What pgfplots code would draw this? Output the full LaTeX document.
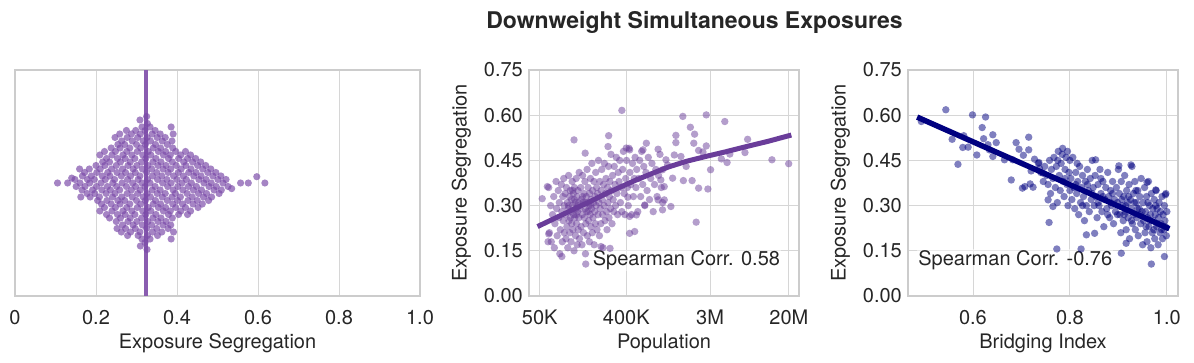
\documentclass[border=0pt]{standalone}
\usepackage{pgfplots}
\pgfplotsset{compat=1.18}
\usepackage{fontspec}
\setmainfont{TeX Gyre Heros}
\definecolor{txt}{HTML}{262626}
\definecolor{gridc}{HTML}{D6D6D6}
\definecolor{framec}{HTML}{CCCCCC}
\definecolor{pA}{HTML}{7A4AA8}
\definecolor{pAline}{HTML}{8A5DB0}
\definecolor{pB}{HTML}{6A3D9A}
\definecolor{nv}{HTML}{000080}
\pgfplotsset{
  myax/.style={
    scale only axis, anchor=south west, height=226pt,
    axis line style={draw=framec, line width=1.3pt},
    grid=major, major grid style={draw=gridc, line width=0.9pt},
    major tick length=0pt, tick style={draw=none},
    xminorticks=false, yminorticks=false,
    tick label style={font=\fontsize{20}{24}\selectfont, text=txt, inner sep=0pt},
    label style={font=\fontsize{20}{24}\selectfont, text=txt, inner sep=0pt},
    xticklabel style={anchor=base, yshift=-29pt},
    yticklabel style={anchor=base east, xshift=-6pt, yshift=-7pt},
    xlabel style={at={(axis description cs:0.5,-0.2345)}, anchor=base},
    ylabel style={at={(axis description cs:-0.2307,0.5)}, anchor=base},
  },
}
\tikzset{annot/.style={anchor=base west, fill=white, fill opacity=0.5, text opacity=1, inner sep=1pt, font=\fontsize{20}{24}\selectfont, text=txt}}
\begin{document}
\begin{tikzpicture}
\useasboundingbox (0,0) rectangle (1194pt,363pt);
\node[anchor=base, font=\bfseries\fontsize{23}{28}\selectfont, text=txt] at (694.5pt,334pt) {Downweight Simultaneous Exposures};

% ---------------- Panel 1: swarm ----------------
\begin{axis}[myax, at={(15pt,67pt)}, width=405pt,
  xmin=0, xmax=1, ymin=-16.14, ymax=16.14,
  xtick={0,0.2,0.4,0.6,0.8,1}, xticklabels={0,0.2,0.4,0.6,0.8,1.0},
  ytick=\empty, xlabel={Exposure Segregation}]
\addplot[only marks, mark=*, mark size=3.6pt, mark options={draw=pA, draw opacity=0, fill=pA, fill opacity=0.68}] coordinates {
(0.105,0) (0.13,0) (0.14,0.7)
(0.151,-0.5) (0.148,0.5)
(0.1625,-2) (0.1655,-1) (0.1605,0) (0.1665,1) (0.1595,2)
(0.178,-1.5) (0.173,-0.5) (0.179,0.5) (0.172,1.5)
(0.1855,-2) (0.1915,-1) (0.1845,0) (0.1885,1) (0.1835,2)
(0.204,-2.5) (0.197,-1.5) (0.201,-0.5) (0.196,0.5) (0.202,1.5) (0.2,2.5)
(0.2095,-4) (0.2135,-3) (0.2085,-2) (0.2145,-1) (0.2125,0) (0.2155,1) (0.2105,2) (0.2165,3) (0.2095,4)
(0.226,-4.5) (0.221,-3.5) (0.227,-2.5) (0.225,-1.5) (0.228,-0.5) (0.223,0.5) (0.229,1.5) (0.222,2.5) (0.226,3.5) (0.221,4.5)
(0.2335,-5) (0.2395,-4) (0.2375,-3) (0.2405,-2) (0.2355,-1) (0.2415,0) (0.2345,1) (0.2385,2) (0.2335,3) (0.2395,4) (0.2375,5)
(0.252,-6.5) (0.25,-5.5) (0.253,-4.5) (0.248,-3.5) (0.254,-2.5) (0.247,-1.5) (0.251,-0.5) (0.246,0.5) (0.252,1.5) (0.25,2.5) (0.253,3.5) (0.248,4.5) (0.254,5.5) (0.247,6.5)
(0.2625,-7) (0.2655,-6) (0.2605,-5) (0.2665,-4) (0.2595,-3) (0.2635,-2) (0.2585,-1) (0.2645,0) (0.2625,1) (0.2655,2) (0.2605,3) (0.2665,4) (0.2595,5) (0.2635,6) (0.2585,7)
(0.278,-7.5) (0.273,-6.5) (0.279,-5.5) (0.272,-4.5) (0.276,-3.5) (0.271,-2.5) (0.277,-1.5) (0.275,-0.5) (0.278,0.5) (0.273,1.5) (0.279,2.5) (0.272,3.5) (0.276,4.5) (0.271,5.5) (0.277,6.5) (0.275,7.5)
(0.2855,-7) (0.2915,-6) (0.2845,-5) (0.2885,-4) (0.2835,-3) (0.2895,-2) (0.2875,-1) (0.2905,0) (0.2855,1) (0.2915,2) (0.2845,3) (0.2885,4) (0.2835,5) (0.2895,6) (0.2875,7)
(0.304,-7.5) (0.297,-6.5) (0.301,-5.5) (0.296,-4.5) (0.302,-3.5) (0.3,-2.5) (0.303,-1.5) (0.298,-0.5) (0.304,0.5) (0.297,1.5) (0.301,2.5) (0.296,3.5) (0.302,4.5) (0.3,5.5) (0.303,6.5) (0.298,7.5)
(0.3095,-9) (0.3135,-8) (0.3085,-7) (0.3145,-6) (0.3125,-5) (0.3155,-4) (0.3105,-3) (0.3165,-2) (0.3095,-1) (0.3135,0) (0.3085,1) (0.3145,2) (0.3125,3) (0.3155,4) (0.3105,5) (0.3165,6) (0.3095,7) (0.3135,8) (0.3085,9)
(0.326,-9.5) (0.321,-8.5) (0.327,-7.5) (0.325,-6.5) (0.328,-5.5) (0.323,-4.5) (0.329,-3.5) (0.322,-2.5) (0.326,-1.5) (0.321,-0.5) (0.327,0.5) (0.325,1.5) (0.328,2.5) (0.323,3.5) (0.329,4.5) (0.322,5.5) (0.326,6.5) (0.321,7.5) (0.327,8.5) (0.325,9.5)
(0.3335,-8) (0.3395,-7) (0.3375,-6) (0.3405,-5) (0.3355,-4) (0.3415,-3) (0.3345,-2) (0.3385,-1) (0.3335,0) (0.3395,1) (0.3375,2) (0.3405,3) (0.3355,4) (0.3415,5) (0.3345,6) (0.3385,7) (0.3335,8)
(0.352,-7.5) (0.35,-6.5) (0.353,-5.5) (0.348,-4.5) (0.354,-3.5) (0.347,-2.5) (0.351,-1.5) (0.346,-0.5) (0.352,0.5) (0.35,1.5) (0.353,2.5) (0.348,3.5) (0.354,4.5) (0.347,5.5) (0.351,6.5) (0.346,7.5)
(0.3625,-7) (0.3655,-6) (0.3605,-5) (0.3665,-4) (0.3595,-3) (0.3635,-2) (0.3585,-1) (0.3645,0) (0.3625,1) (0.3655,2) (0.3605,3) (0.3665,4) (0.3595,5) (0.3635,6) (0.3585,7)
(0.378,-6.5) (0.373,-5.5) (0.379,-4.5) (0.372,-3.5) (0.376,-2.5) (0.371,-1.5) (0.377,-0.5) (0.375,0.5) (0.378,1.5) (0.373,2.5) (0.379,3.5) (0.372,4.5) (0.376,5.5) (0.371,6.5)
(0.3855,-8) (0.3915,-7) (0.3845,-6) (0.3885,-5) (0.3835,-4) (0.3895,-3) (0.3875,-2) (0.3905,-1) (0.3855,0) (0.3915,1) (0.3845,2) (0.3885,3) (0.3835,4) (0.3895,5) (0.3875,6) (0.3905,7) (0.3855,8)
(0.404,-4.5) (0.397,-3.5) (0.401,-2.5) (0.396,-1.5) (0.402,-0.5) (0.4,0.5) (0.403,1.5) (0.398,2.5) (0.404,3.5) (0.397,4.5)
(0.4095,-4) (0.4135,-3) (0.4085,-2) (0.4145,-1) (0.4125,0) (0.4155,1) (0.4105,2) (0.4165,3) (0.4095,4)
(0.426,-4.5) (0.421,-3.5) (0.427,-2.5) (0.425,-1.5) (0.428,-0.5) (0.423,0.5) (0.429,1.5) (0.422,2.5) (0.426,3.5) (0.421,4.5)
(0.4335,-4) (0.4395,-3) (0.4375,-2) (0.4405,-1) (0.4355,0) (0.4415,1) (0.4345,2) (0.4385,3) (0.4335,4)
(0.452,-3.5) (0.45,-2.5) (0.453,-1.5) (0.448,-0.5) (0.454,0.5) (0.447,1.5) (0.451,2.5) (0.446,3.5)
(0.4625,-3) (0.4655,-2) (0.4605,-1) (0.4665,0) (0.4595,1) (0.4635,2) (0.4585,3)
(0.478,-2.5) (0.473,-1.5) (0.479,-0.5) (0.472,0.5) (0.476,1.5) (0.471,2.5)
(0.4855,-2) (0.4915,-1) (0.4845,0) (0.4885,1) (0.4835,2)
(0.504,-1.5) (0.497,-0.5) (0.501,0.5) (0.496,1.5)
(0.5095,-1) (0.5135,0) (0.5085,1)
(0.526,-0.5) (0.521,0.5)
(0.535,-0.8) (0.557,0) (0.576,0) (0.597,0.9) (0.617,0)
};
\addplot[pAline, line width=4.5pt] coordinates {(0.323,-16.14) (0.323,16.14)};
\end{axis}

% ---------------- Panel 2: population ----------------
\begin{axis}[myax, at={(529pt,67pt)}, width=270pt,
  xmode=log, xmin=38.6, xmax=25500, ymin=0, ymax=0.75,
  xtick={50,400,3000,20000}, xticklabels={50K,400K,3M,20M},
  ytick={0,0.15,0.3,0.45,0.6,0.75}, yticklabels={0.00,0.15,0.30,0.45,0.60,0.75},
  xlabel={Population}, ylabel={Exposure Segregation}]
\addplot[only marks, mark=*, mark size=3.7pt, mark options={draw=pB, draw opacity=0, fill=pB, fill opacity=0.5}] coordinates {
(1560,0.596) (2740,0.601) (4280,0.579) (1870,0.560) (2070,0.537) (1320,0.533) (2030,0.507) (2740,0.498) (2280,0.483) (2530,0.478)
(1270,0.468) (1490,0.463) (7410,0.520) (6950,0.476) (4830,0.471) (3940,0.455) (4520,0.443) (3040,0.419) (13300,0.452) (19900,0.439)
(1040,0.452) (957,0.419) (919,0.385) (1220,0.391) (1580,0.383) (1950,0.383) (2280,0.358) (2850,0.355) (998,0.363) (998,0.319)
(1170,0.297) (957,0.286) (2150,0.245) (1690,0.430) (1080,0.435) (1320,0.509)
(114,0.518) (262,0.532) (258,0.496) (149,0.474) (53,0.323) (60,0.363) (62,0.206) (61,0.180) (85,0.131) (151,0.106)
(271,0.158) (218,0.164) (434,0.208) (490,0.214) (416,0.328) (649,0.507) (861,0.487) (598,0.485) (400,0.491) (434,0.485)
(861,0.319) (624,0.302) (510,0.269) (434,0.264) (360,0.616)
(62,0.36) (65,0.30) (63,0.21) (66,0.18) (68,0.27) (70,0.33) (72,0.24) (71,0.16) (74,0.38) (75,0.29) (76,0.20) (78,0.35)
(79,0.26) (80,0.31) (81,0.14) (82,0.22) (84,0.37) (85,0.28) (86,0.18) (87,0.33) (88,0.25) (89,0.39) (90,0.21) (90,0.30)
(92,0.34) (93,0.27) (94,0.19) (95,0.36) (96,0.23) (97,0.31) (98,0.16) (99,0.29) (100,0.40) (101,0.25) (102,0.33) (103,0.21)
(104,0.35) (105,0.28) (106,0.18) (107,0.32) (108,0.24) (109,0.38) (110,0.30) (111,0.22) (112,0.34) (113,0.27) (114,0.15) (115,0.36)
(116,0.26) (117,0.31) (118,0.20) (119,0.29) (120,0.39) (121,0.24) (122,0.33) (123,0.17) (124,0.28) (125,0.35) (126,0.22) (127,0.31)
(128,0.26) (129,0.41) (130,0.19) (100,0.30) (104,0.26) (110,0.35) (115,0.32) (120,0.27) (125,0.30)
(132,0.29) (134,0.36) (135,0.23) (136,0.32) (138,0.17) (139,0.27) (140,0.40) (142,0.31) (143,0.21) (145,0.34) (146,0.26) (148,0.38)
(149,0.29) (150,0.14) (151,0.24) (153,0.33) (154,0.28) (156,0.42) (157,0.20) (159,0.31) (160,0.36) (162,0.25) (163,0.30) (165,0.18)
(166,0.34) (168,0.27) (169,0.39) (171,0.23) (172,0.32) (174,0.29) (175,0.44) (177,0.21) (178,0.35) (180,0.26) (182,0.31) (184,0.38)
(185,0.17) (187,0.28) (189,0.33) (190,0.24) (192,0.41) (194,0.30) (196,0.36) (198,0.22) (140,0.33) (150,0.31) (160,0.28) (170,0.30)
(201,0.34) (203,0.27) (205,0.45) (207,0.31) (210,0.20) (212,0.38) (214,0.29) (217,0.24) (219,0.35) (222,0.42) (224,0.32) (227,0.27)
(229,0.16) (232,0.37) (235,0.30) (237,0.44) (240,0.25) (243,0.34) (246,0.39) (249,0.28) (252,0.22) (255,0.36) (258,0.31) (261,0.43)
(264,0.26) (267,0.33) (270,0.38) (274,0.29) (277,0.47) (280,0.35) (284,0.24) (288,0.40) (292,0.32) (296,0.28)
(300,0.43) (305,0.37) (310,0.30) (315,0.46) (320,0.34) (325,0.27) (330,0.41) (336,0.38) (342,0.45) (348,0.31) (354,0.36) (360,0.28)
(367,0.42) (374,0.48) (381,0.34) (388,0.27) (395,0.39) (403,0.45) (411,0.36) (420,0.30) (428,0.49) (437,0.41) (446,0.37) (455,0.27)
(465,0.44) (475,0.33) (485,0.39) (495,0.46)
(505,0.36) (515,0.42) (528,0.28) (540,0.39) (553,0.45) (566,0.33) (580,0.48) (595,0.37) (610,0.43) (625,0.30) (642,0.41) (660,0.35)
(680,0.46) (700,0.32) (720,0.39) (742,0.44) (765,0.28) (790,0.37) (815,0.42) (840,0.33) (870,0.40) (900,0.47) (930,0.36) (960,0.31)
};
\addplot[pB, line width=5pt, line cap=rect] coordinates {
(50,0.234) (80,0.265) (120,0.292) (180,0.318) (250,0.341) (350,0.362) (500,0.384) (750,0.407)
(1100,0.428) (1700,0.447) (2700,0.463) (4300,0.478) (7000,0.495) (12000,0.513) (20000,0.532)};
\node[annot] at (axis description cs:0.232,0.133) {Spearman Corr. 0.58};
\end{axis}

% ---------------- Panel 3: bridging ----------------
\begin{axis}[myax, at={(908pt,67pt)}, width=270pt,
  xmin=0.466, xmax=1.023, ymin=0, ymax=0.75,
  xtick={0.6,0.8,1.0}, xticklabels={0.6,0.8,1.0},
  ytick={0,0.15,0.3,0.45,0.6,0.75}, yticklabels={0.00,0.15,0.30,0.45,0.60,0.75},
  xlabel={Bridging Index}, ylabel={Exposure Segregation}]
\addplot[only marks, mark=*, mark size=3.7pt, mark options={draw=nv, draw opacity=0, fill=nv, fill opacity=0.5}] coordinates {
(0.4935,0.579) (0.544,0.618) (0.557,0.520) (0.569,0.437) (0.581,0.532) (0.579,0.493) (0.590,0.494) (0.599,0.601) (0.608,0.468)
(0.619,0.559) (0.626,0.594) (0.622,0.522) (0.631,0.502) (0.634,0.485) (0.641,0.535) (0.648,0.509) (0.641,0.463) (0.665,0.452)
(0.682,0.452) (0.679,0.385) (0.689,0.509) (0.695,0.487) (0.702,0.358) (0.707,0.363) (0.715,0.527) (0.715,0.485) (0.718,0.372)
(0.724,0.361) (0.704,0.467) (0.727,0.454) (0.736,0.443) (0.720,0.415) (0.737,0.424) (0.744,0.408) (0.755,0.319) (0.757,0.244)
(0.765,0.297) (0.773,0.156) (0.834,0.203) (0.851,0.208) (0.823,0.156) (0.906,0.142) (0.916,0.175) (0.968,0.106) (0.995,0.131)
(0.853,0.452) (0.901,0.432) (0.926,0.435) (0.959,0.377) (0.977,0.352) (0.997,0.336)
(0.735,0.44) (0.74,0.41) (0.745,0.38) (0.748,0.43)
(0.752,0.40) (0.755,0.37) (0.758,0.45) (0.760,0.34) (0.762,0.42) (0.765,0.39) (0.767,0.46) (0.770,0.36) (0.772,0.43) (0.774,0.31)
(0.776,0.48) (0.778,0.40) (0.780,0.35) (0.782,0.44) (0.784,0.47) (0.786,0.38) (0.788,0.33) (0.790,0.42) (0.792,0.46) (0.794,0.37)
(0.796,0.30) (0.798,0.41) (0.800,0.45) (0.800,0.35) (0.785,0.49) (0.775,0.45) (0.790,0.39) (0.795,0.48)
(0.802,0.39) (0.804,0.32) (0.806,0.46) (0.808,0.36) (0.810,0.29) (0.812,0.41) (0.814,0.34) (0.816,0.38) (0.818,0.27) (0.820,0.43)
(0.822,0.31) (0.824,0.36) (0.826,0.40) (0.828,0.33) (0.830,0.25) (0.832,0.38) (0.834,0.30) (0.836,0.42) (0.838,0.35) (0.840,0.28)
(0.842,0.39) (0.844,0.32) (0.846,0.45) (0.848,0.36) (0.850,0.30) (0.812,0.37) (0.826,0.30) (0.836,0.37) (0.846,0.34) (0.815,0.44)
(0.852,0.40) (0.854,0.33) (0.856,0.26) (0.858,0.37) (0.860,0.30) (0.862,0.42) (0.864,0.34) (0.866,0.28) (0.868,0.38) (0.870,0.23)
(0.872,0.32) (0.874,0.36) (0.876,0.29) (0.878,0.41) (0.880,0.33) (0.882,0.26) (0.884,0.35) (0.886,0.30) (0.888,0.38) (0.890,0.24)
(0.892,0.32) (0.894,0.28) (0.896,0.36) (0.898,0.31) (0.900,0.42) (0.858,0.31) (0.868,0.33) (0.878,0.27) (0.888,0.34) (0.898,0.27)
(0.864,0.39) (0.884,0.31)
(0.902,0.34) (0.903,0.27) (0.905,0.21) (0.906,0.38) (0.908,0.30) (0.910,0.25) (0.911,0.33) (0.913,0.40) (0.914,0.28) (0.916,0.22)
(0.917,0.35) (0.919,0.31) (0.920,0.26) (0.922,0.37) (0.923,0.19) (0.925,0.32) (0.926,0.29) (0.928,0.43) (0.929,0.24) (0.931,0.34)
(0.932,0.27) (0.934,0.38) (0.935,0.22) (0.937,0.31) (0.938,0.26) (0.940,0.35) (0.941,0.20) (0.943,0.29) (0.944,0.33) (0.946,0.24)
(0.947,0.39) (0.949,0.28) (0.950,0.17) (0.907,0.32) (0.915,0.30) (0.921,0.33) (0.927,0.25) (0.933,0.31) (0.939,0.29) (0.945,0.27)
(0.936,0.35) (0.912,0.27)
(0.951,0.31) (0.952,0.25) (0.954,0.36) (0.955,0.21) (0.956,0.28) (0.958,0.33) (0.959,0.18) (0.960,0.26) (0.962,0.38) (0.963,0.23)
(0.964,0.30) (0.966,0.27) (0.967,0.16) (0.968,0.34) (0.970,0.21) (0.971,0.29) (0.972,0.25) (0.974,0.32) (0.975,0.19) (0.976,0.27)
(0.978,0.35) (0.979,0.23) (0.980,0.29) (0.982,0.17) (0.983,0.26) (0.984,0.31) (0.986,0.21) (0.987,0.28) (0.988,0.24) (0.990,0.33)
(0.991,0.19) (0.992,0.27) (0.994,0.22) (0.995,0.30) (0.996,0.25) (0.998,0.34) (0.999,0.20) (1.000,0.28) (0.957,0.23) (0.965,0.25)
(0.973,0.22) (0.981,0.24) (0.989,0.22) (0.997,0.23) (0.961,0.31) (0.977,0.30)
};
\addplot[nv, line width=5.5pt, line cap=rect] coordinates {(0.49,0.590) (1.0,0.227)};
\node[annot] at (axis description cs:0.034,0.137) {Spearman Corr. -0.76};
\end{axis}
\end{tikzpicture}
\end{document}
